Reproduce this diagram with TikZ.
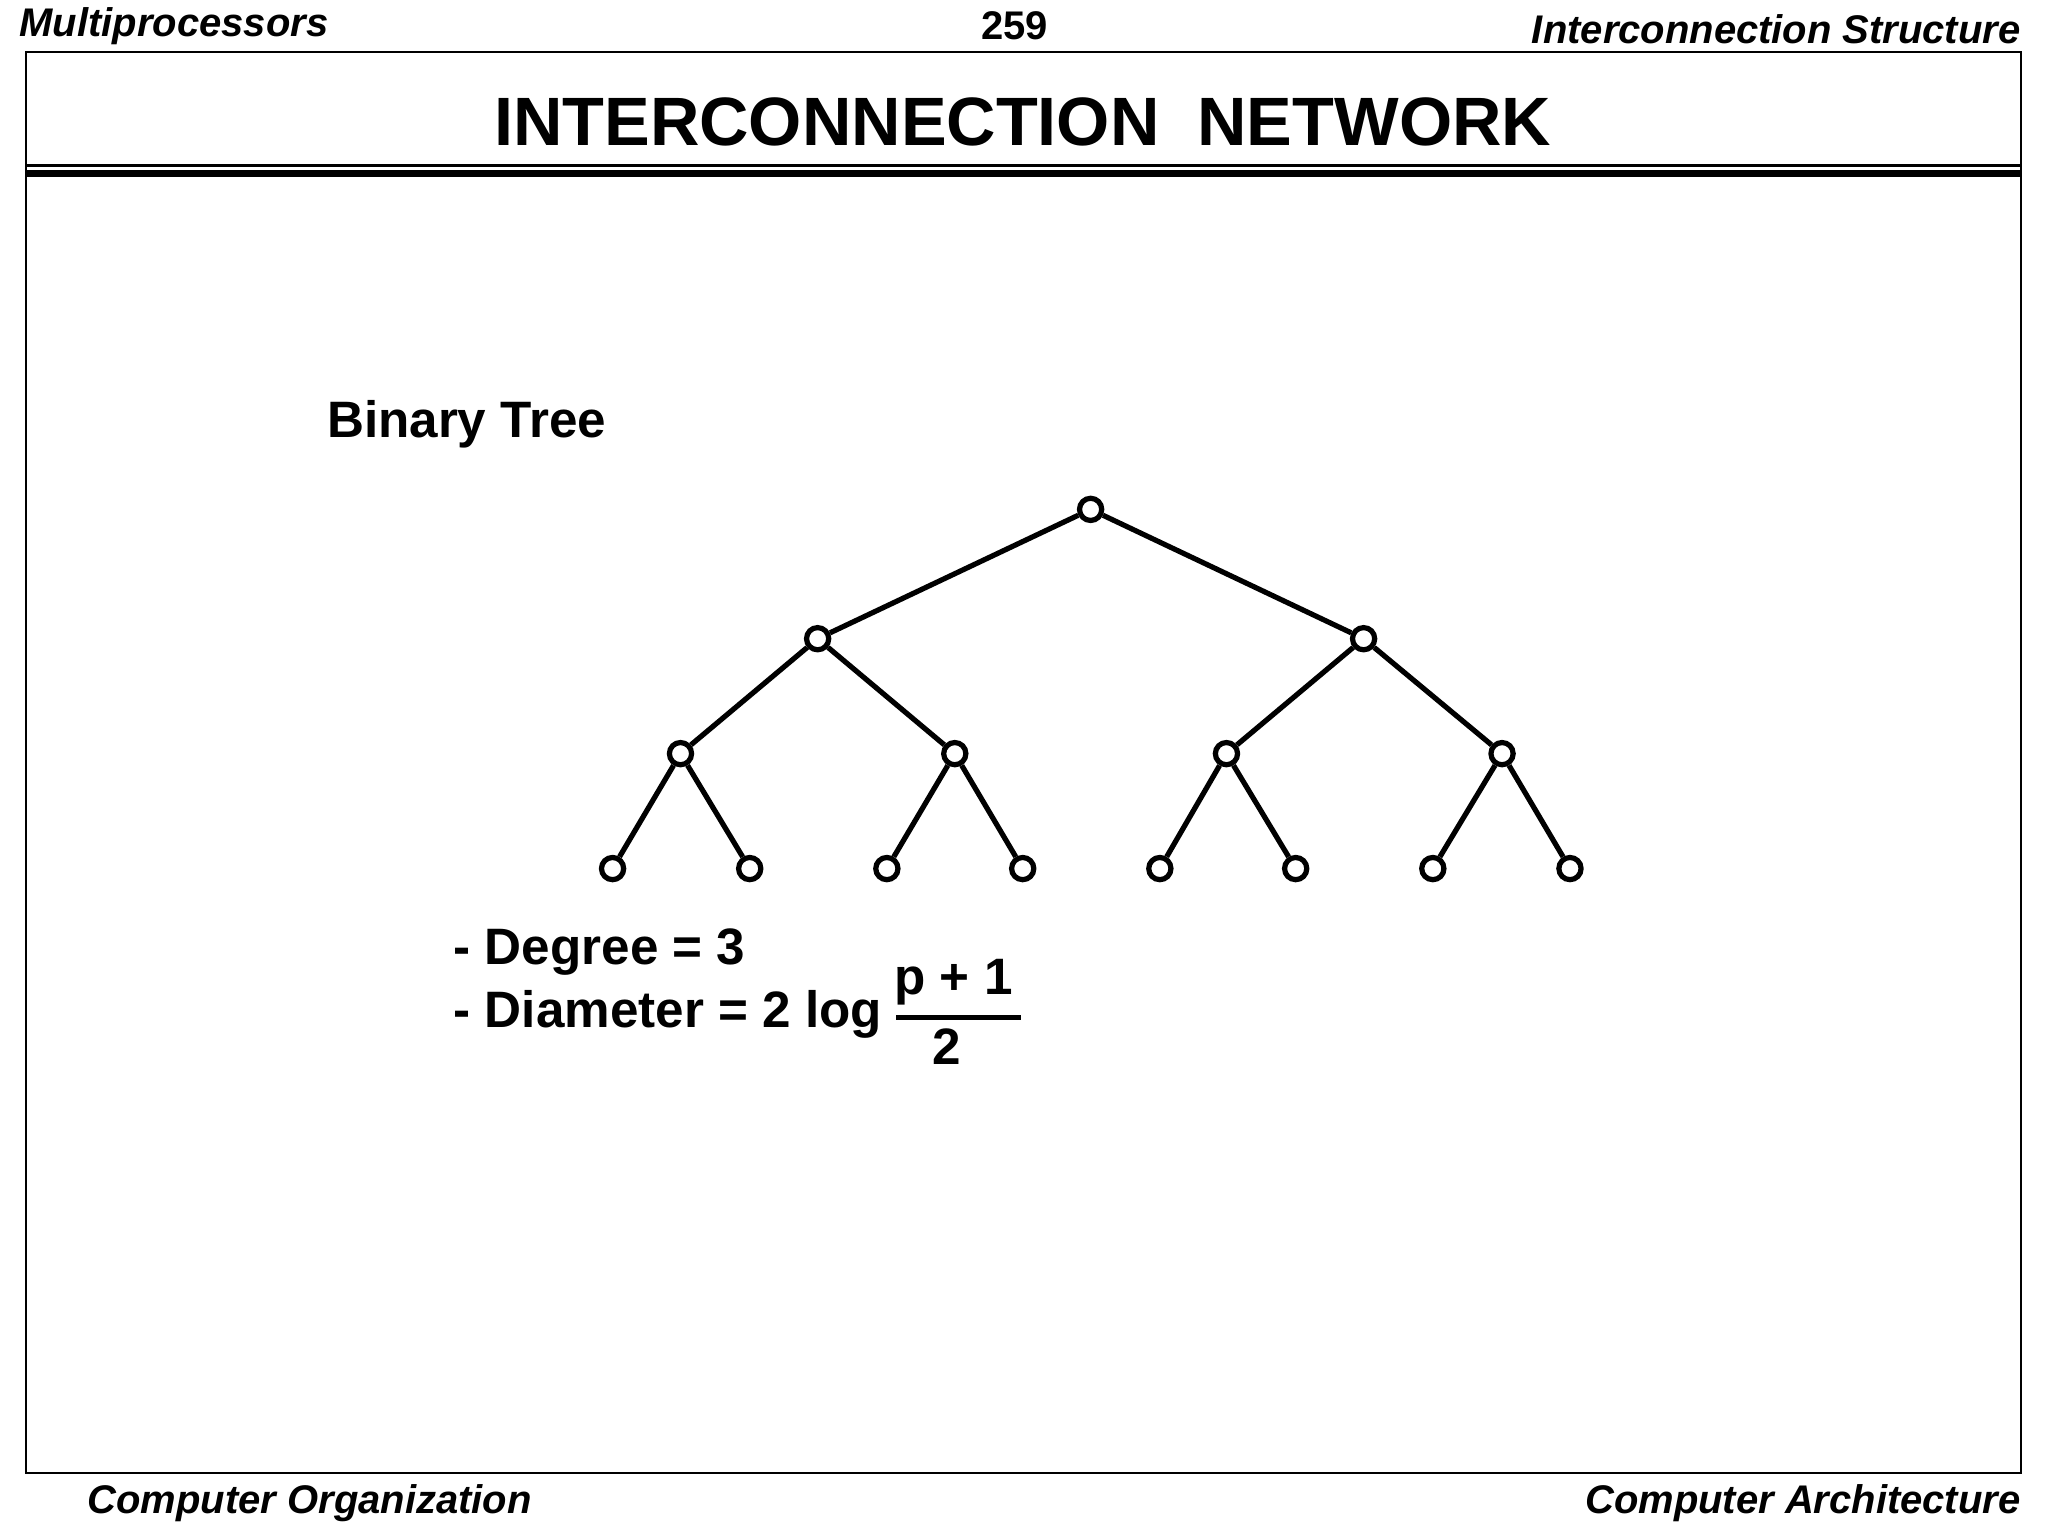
\documentclass[tikz,border=0pt]{standalone}
\usepackage{fontspec}
\setmainfont{Liberation Sans}
\begin{document}
\begin{tikzpicture}[x=0.5pt,y=-0.5pt,
  nd/.style={circle,draw,line width=2pt,fill=white,inner sep=0pt,minimum size=8.5pt},
  ed/.style={line width=2pt},
  hdr/.style={font=\fontsize{15.3}{17}\selectfont\bfseries\itshape},
  txt/.style={font=\fontsize{19.6}{22}\selectfont\bfseries,inner sep=0pt}]
\useasboundingbox (0,0) rectangle (1568,1176);
\draw[line width=0.8pt] (20,40) rectangle (1547,1128);
\draw[line width=1.2pt] (20,127) -- (1547,127);
\draw[line width=2.5pt] (20,133) -- (1547,133);
\node[hdr,anchor=west] (h1) at (8,20) {Multiprocessors};
\node[font=\fontsize{15.3}{17}\selectfont\bfseries] (h2) at (777,20) {259};
\node[hdr,anchor=east] (h3) at (1554,22) {Interconnection Structure};
\node[hdr,anchor=west] (f1) at (60,1151) {Computer Organization};
\node[hdr,anchor=east] (f2) at (1554,1151) {Computer Architecture};
\node[font=\fontsize{26.2}{30}\selectfont\bfseries] (title) at (783,93) {INTERCONNECTION\ \ NETWORK};
\node[txt,anchor=west] (bt) at (250,325) {Binary Tree};
\node[nd] (r) at (835,390) {};
\node[nd] (a) at (626,489) {};
\node[nd] (b) at (1044,489) {};
\node[nd] (a1) at (521,577) {};
\node[nd] (a2) at (731,577) {};
\node[nd] (b1) at (939,577) {};
\node[nd] (b2) at (1150,577) {};
\foreach \n/\x in {l1/469,l2/574,l3/679,l4/783,l5/888,l6/992,l7/1097,l8/1202}
  \node[nd] (\n) at (\x,665) {};
\draw[ed] (r)--(a) (r)--(b) (a)--(a1) (a)--(a2) (b)--(b1) (b)--(b2)
  (a1)--(l1) (a1)--(l2) (a2)--(l3) (a2)--(l4) (b1)--(l5) (b1)--(l6) (b2)--(l7) (b2)--(l8);
\node[txt,anchor=west] (deg) at (347,729) {- Degree = 3};
\node[txt,anchor=west] (dia) at (347,777) {- Diameter = 2 log};
\node[txt] (num) at (730,752) {p + 1};
\node[txt] (den) at (725,801) {2};
\draw[line width=1.6pt] (686,779) -- (782,779);
\end{tikzpicture}
\end{document}
